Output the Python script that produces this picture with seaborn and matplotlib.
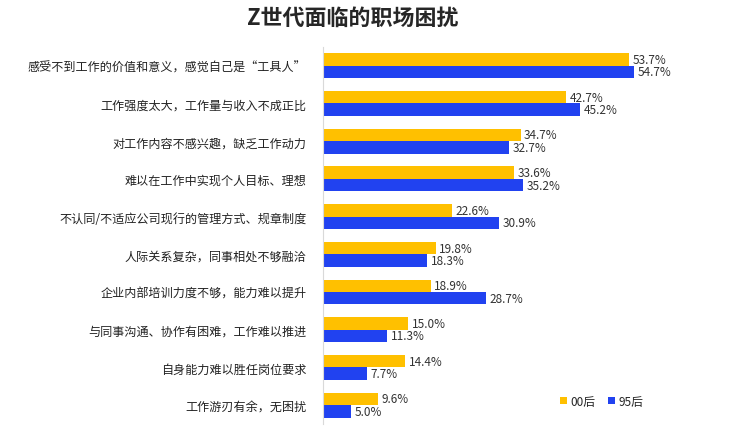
import matplotlib
matplotlib.use("Agg")
import matplotlib.pyplot as plt
import pandas as pd
import seaborn as sns

# Данные с картинки
categories = [
    "感受不到工作的价值和意义，感觉自己是“工具人”",
    "工作强度太大，工作量与收入不成正比",
    "对工作内容不感兴趣，缺乏工作动力",
    "难以在工作中实现个人目标、理想",
    "不认同/不适应公司现行的管理方式、规章制度",
    "人际关系复杂，同事相处不够融洽",
    "企业内部培训力度不够，能力难以提升",
    "与同事沟通、协作有困难，工作难以推进",
    "自身能力难以胜任岗位要求",
    "工作游刃有余，无困扰",
]
series_names = ["00后", "95后"]
values_00 = [53.7, 42.7, 34.7, 33.6, 22.6, 19.8, 18.9, 15.0, 14.4, 9.6]
values_95 = [54.7, 45.2, 32.7, 35.2, 30.9, 18.3, 28.7, 11.3, 7.7, 5.0]

rows = []
for cat, a, b in zip(categories, values_00, values_95):
    rows.append({"问题": cat, "群体": series_names[0], "比例": a})
    rows.append({"问题": cat, "群体": series_names[1], "比例": b})
df = pd.DataFrame(rows)

sns.set_style("white")
plt.rcParams["font.family"] = ["Noto Sans CJK SC", "DejaVu Sans"]

fig = plt.figure(figsize=(7.38, 4.31), dpi=100)
ax = fig.add_axes([0.4377, 0.014, 0.54, 0.875])

sns.barplot(data=df, y="问题", x="比例", hue="群体", orient="h",
            palette=["#FFC000", "#2142F0"], saturation=1, width=0.66,
            linewidth=0, ax=ax)

for cont in ax.containers:
    ax.bar_label(cont, fmt="%.1f%%", padding=2.5, fontsize=8.5, color="#333333")

ax.set_xlim(0, 70)
ax.set_ylim(9.5, -0.5)
ax.set_xlabel("")
ax.set_ylabel("")
ax.set_xticks([])
ax.tick_params(axis="y", length=0, pad=12, labelsize=8.7, labelcolor="#222222")
for s in ["top", "right", "bottom"]:
    ax.spines[s].set_visible(False)
ax.spines["left"].set_color("#D9D9D9")
ax.spines["left"].set_linewidth(0.8)

ax.legend(loc="lower right", bbox_to_anchor=(0.83, 0.015), ncol=2, frameon=False,
          fontsize=8.5, handlelength=0.6, handleheight=0.6, handletextpad=0.3,
          columnspacing=1.0, bbox_transform=ax.transAxes)

fig.suptitle("Z世代面临的职场困扰", fontsize=15.8, fontweight="heavy", y=0.985, x=0.478)

plt.savefig("out.png", dpi=100)
